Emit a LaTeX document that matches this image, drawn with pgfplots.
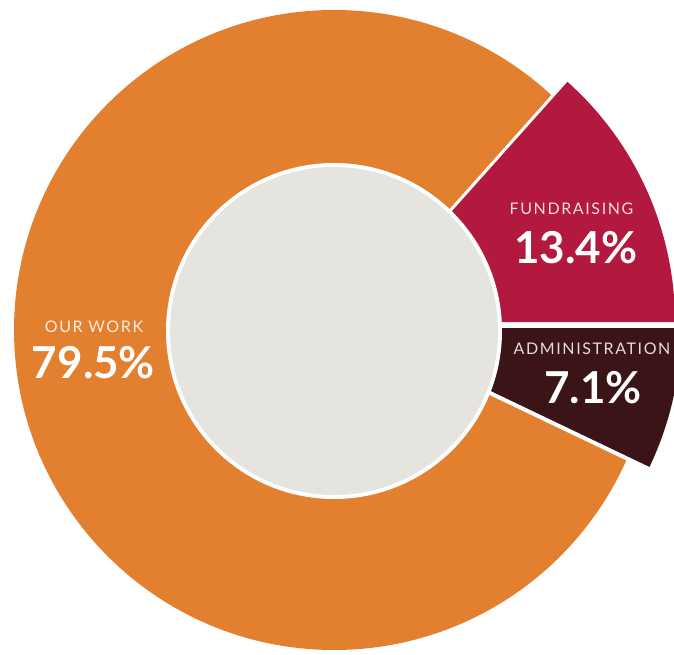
\documentclass[border=0pt]{standalone}
\usepackage{pgfplots}
\pgfplotsset{compat=1.18}
\usepackage{pgfplotstable}
\usepackage{fontspec}
\setmainfont{Lato}
\newfontfamily\labelfont[LetterSpace=10]{Lato}

\definecolor{work}{HTML}{E3802F}
\definecolor{fund}{HTML}{B3183E}
\definecolor{admin}{HTML}{3B1418}
\definecolor{centre}{HTML}{E6E4DE}

% shares of spending, in percent
\pgfplotstableread{
share value
work  79.5
fund  13.4
admin 7.1
}\piedata

\begin{document}
\begin{tikzpicture}
\pgfplotstablegetelem{0}{value}\of\piedata\edef\vwork{\pgfplotsretval}
\pgfplotstablegetelem{1}{value}\of\piedata\edef\vfund{\pgfplotsretval}
\pgfplotstablegetelem{2}{value}\of\piedata\edef\vadmin{\pgfplotsretval}
\pgfmathsetmacro\afund{3.6*\vfund}
\pgfmathsetmacro\aadmin{-3.6*\vadmin}
\pgfmathsetmacro\awork{\afund+3.6*\vwork}
\begin{axis}[
    x=1pt, y=1pt,
    xmin=0, xmax=674,
    ymin=0, ymax=655,
    y dir=reverse,
    hide axis,
    clip=true,
  ]
  \coordinate (pa) at (axis cs:0,655);
  \coordinate (pb) at (axis cs:674,0);
  % our work
  \begin{scope}
    \clip (axis cs:334,330) circle[radius=320pt];
    \fill[work] (axis cs:345,326) -- ++(\afund:340pt)
      arc[start angle=\afund, end angle=\awork, radius=340pt] -- cycle;
  \end{scope}
  % fundraising, pulled out
  \fill[fund] (axis cs:353,322) -- ++(0:322pt)
    arc[start angle=0, end angle=\afund, radius=322pt] -- cycle;
  % administration, pulled out
  \fill[admin] (axis cs:359,328) -- ++(\aadmin:322pt)
    arc[start angle=\aadmin, end angle=0, radius=322pt] -- cycle;
  % hole
  \fill[white] (axis cs:334,331) circle[radius=168pt];
  \fill[centre] (axis cs:334,331) circle[radius=164pt];

  \node[text=white!85!work, font=\labelfont\fontsize{16}{18}\selectfont]
    at (axis cs:94,326.5) {OUR WORK};
  \node[text=white, font=\bfseries\fontsize{44}{48}\selectfont]
    at (axis cs:93.5,363) {\vwork\%};
  \node[text=white!85!fund, font=\labelfont\fontsize{16}{18}\selectfont]
    at (axis cs:571.5,209) {FUNDRAISING};
  \node[text=white, font=\bfseries\fontsize{44}{48}\selectfont]
    at (axis cs:576,247.5) {\vfund\%};
  \node[text=white!85!admin, font=\labelfont\fontsize{16}{18}\selectfont]
    at (axis cs:592,349) {ADMINISTRATION};
  \node[text=white, font=\bfseries\fontsize{44}{48}\selectfont]
    at (axis cs:593,388) {\vadmin\%};
\end{axis}
\pgfresetboundingbox
\path[use as bounding box] (pa) rectangle (pb);
\end{tikzpicture}
\end{document}
